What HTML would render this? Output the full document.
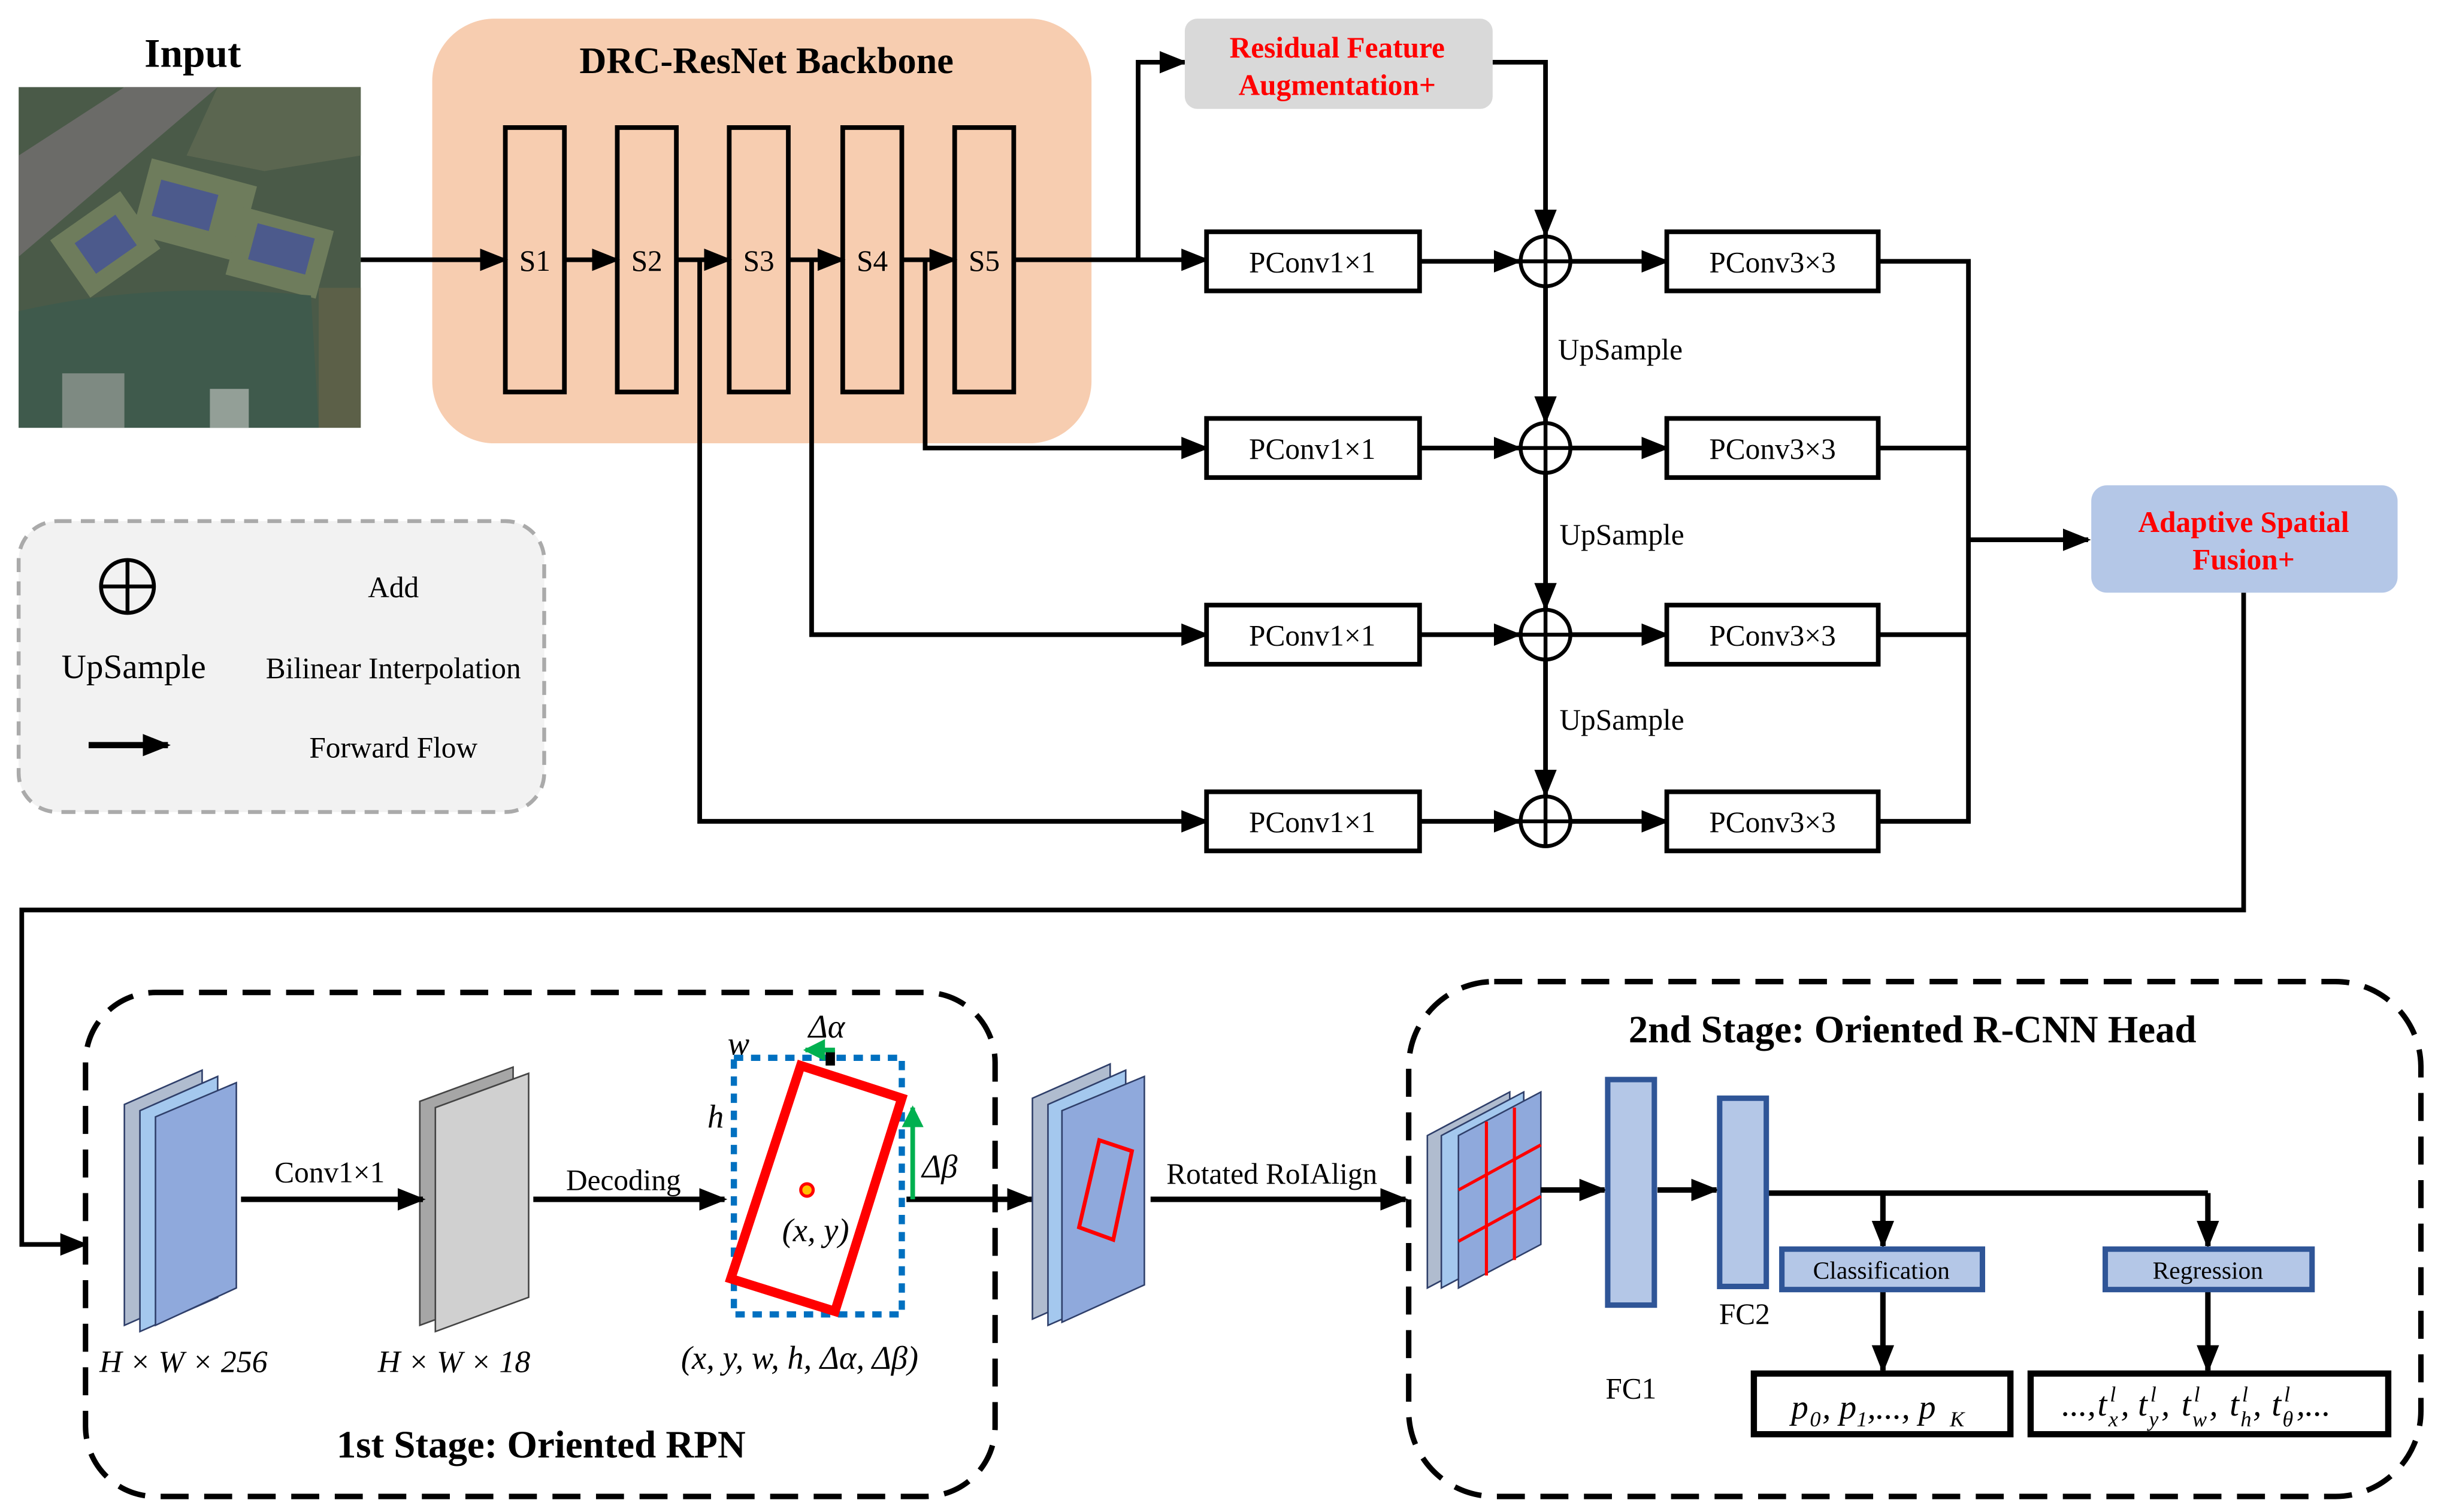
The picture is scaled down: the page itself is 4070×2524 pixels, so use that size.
<!DOCTYPE html>
<html><head><meta charset="utf-8"><style>html,body{margin:0;padding:0;background:#fff}svg{display:block}svg text{font-family:"Liberation Serif","DejaVu Serif",serif}</style></head><body>
<svg width="4070" height="2524" viewBox="0 0 1568 972" preserveAspectRatio="none" xmlns="http://www.w3.org/2000/svg">
<defs>
<marker id="b" viewBox="0 0 10 10" refX="9" refY="5" markerWidth="18" markerHeight="18" orient="auto" markerUnits="userSpaceOnUse"><path d="M0,1L10,5L0,9z"/></marker>
<marker id="g" viewBox="0 0 10 10" refX="9" refY="5" markerWidth="14" markerHeight="14" orient="auto" markerUnits="userSpaceOnUse"><path d="M0,0L10,5L0,10z" fill="#00b050"/></marker>
</defs>
<!-- Input -->
<text x="124" y="43" font-size="26" font-weight="bold" text-anchor="middle">Input</text>
<rect x="12" y="56" width="220" height="219" fill="#4a5a48"/>
<polygon points="12,100 80,56 140,56 12,165" fill="#6b6b68"/>
<polygon points="140,56 232,56 232,100 170,110 120,100" fill="#5b6650"/>
<rect x="90" y="110" width="70" height="50" fill="#6e7c5c" transform="rotate(15 125 135)"/>
<rect x="40" y="135" width="55" height="45" fill="#6e7c5c" transform="rotate(-35 67 157)"/>
<rect x="150" y="140" width="60" height="45" fill="#6e7c5c" transform="rotate(15 180 162)"/>
<rect x="100" y="120" width="38" height="24" fill="#4c5a8c" transform="rotate(15 119 132)"/>
<rect x="52" y="145" width="32" height="24" fill="#4c5a8c" transform="rotate(-35 68 157)"/>
<rect x="162" y="148" width="38" height="24" fill="#4c5a8c" transform="rotate(15 181 160)"/>
<path d="M12,200 Q100,180 200,190 L205,275 L12,275z" fill="#3f5a4c"/>
<rect x="40" y="240" width="40" height="35" fill="#9a9e9a" opacity="0.7"/>
<rect x="135" y="250" width="25" height="25" fill="#b8bcb8" opacity="0.7"/>
<rect x="205" y="185" width="27" height="90" fill="#5c6048"/>
<!-- Backbone -->
<rect x="278" y="12" width="424" height="273" rx="40" fill="#f7cdb0"/>
<text x="493" y="47" font-size="24" font-weight="bold" text-anchor="middle">DRC-ResNet Backbone</text>
<g fill="none" stroke="#000" stroke-width="3">
<rect x="325" y="82" width="38" height="170"/><rect x="397" y="82" width="38" height="170"/><rect x="469" y="82" width="38" height="170"/><rect x="542" y="82" width="38" height="170"/><rect x="614" y="82" width="38" height="170"/>
</g>
<g font-size="19" text-anchor="middle"><text x="344" y="174">S1</text><text x="416" y="174">S2</text><text x="488" y="174">S3</text><text x="561" y="174">S4</text><text x="633" y="174">S5</text></g>
<g fill="none" stroke="#000" stroke-width="3" marker-end="url(#b)">
<path d="M232,167H325"/><path d="M363,167H397"/><path d="M435,167H469"/><path d="M507,167H542"/><path d="M580,167H614"/>
<path d="M652,167H776"/><path d="M732,167V40H762"/>
<path d="M960,40H994V151"/>
<path d="M595,167V288H776"/><path d="M522,167V408H776"/><path d="M450,167V528H776"/>
<path d="M913,168H977"/><path d="M913,288H977"/><path d="M913,408H977"/><path d="M913,528H977"/>
<path d="M1010,168H1072"/><path d="M1010,288H1072"/><path d="M1010,408H1072"/><path d="M1010,528H1072"/>
<path d="M994,184V271"/><path d="M994,304V391"/><path d="M994,424V511"/>
<path d="M1266,347H1343"/>
<path d="M1443,381V585H14V800H55"/>
</g>
<g fill="none" stroke="#000" stroke-width="3">
<path d="M1208,168H1266V528H1208M1208,288H1266M1208,408H1266"/>
</g>
<!-- RFA -->
<rect x="762" y="12" width="198" height="58" rx="8" fill="#d9d9d9"/>
<text x="860" y="37" font-size="19" font-weight="bold" fill="#ff0000" text-anchor="middle">Residual Feature</text>
<text x="860" y="61" font-size="19" font-weight="bold" fill="#ff0000" text-anchor="middle">Augmentation+</text>
<!-- PConv boxes -->
<g fill="#fff" stroke="#000" stroke-width="3">
<rect x="776" y="149" width="137" height="38"/><rect x="776" y="269" width="137" height="38"/><rect x="776" y="389" width="137" height="38"/><rect x="776" y="509" width="137" height="38"/>
<rect x="1072" y="149" width="136" height="38"/><rect x="1072" y="269" width="136" height="38"/><rect x="1072" y="389" width="136" height="38"/><rect x="1072" y="509" width="136" height="38"/>
</g>
<g font-size="19" text-anchor="middle">
<text x="844" y="175">PConv1×1</text><text x="844" y="295">PConv1×1</text><text x="844" y="415">PConv1×1</text><text x="844" y="535">PConv1×1</text>
<text x="1140" y="175">PConv3×3</text><text x="1140" y="295">PConv3×3</text><text x="1140" y="415">PConv3×3</text><text x="1140" y="535">PConv3×3</text>
</g>
<g fill="#fff" stroke="#000" stroke-width="2.5">
<circle cx="994" cy="168" r="16"/><circle cx="994" cy="288" r="16"/><circle cx="994" cy="408" r="16"/><circle cx="994" cy="528" r="16"/>
</g>
<g stroke="#000" stroke-width="2.5">
<path d="M978,168H1010M994,152V184M978,288H1010M994,272V304M978,408H1010M994,392V424M978,528H1010M994,512V544"/>
</g>
<g font-size="19"><text x="1002" y="231">UpSample</text><text x="1003" y="350">UpSample</text><text x="1003" y="469">UpSample</text></g>
<!-- ASF -->
<rect x="1345" y="312" width="197" height="69" rx="10" fill="#b4c7e7"/>
<text x="1443" y="342" font-size="19" font-weight="bold" fill="#ff0000" text-anchor="middle">Adaptive  Spatial</text>
<text x="1443" y="366" font-size="19" font-weight="bold" fill="#ff0000" text-anchor="middle">Fusion+</text>
<!-- Legend -->
<rect x="12" y="335" width="338" height="187" rx="25" fill="#f2f2f2" stroke="#aaa" stroke-width="2.5" stroke-dasharray="9,6"/>
<circle cx="82" cy="377" r="17" fill="none" stroke="#000" stroke-width="2.5"/>
<path d="M65,377H99M82,360V394" stroke="#000" stroke-width="2.5"/>
<text x="253" y="384" font-size="19" text-anchor="middle">Add</text>
<text x="86" y="436" font-size="22" text-anchor="middle">UpSample</text>
<text x="253" y="436" font-size="19" text-anchor="middle">Bilinear Interpolation</text>
<path d="M57,479H108" stroke="#000" stroke-width="4" marker-end="url(#b)"/>
<text x="253" y="487" font-size="19" text-anchor="middle">Forward Flow</text>
<!-- 1st stage -->
<rect x="55" y="638" width="585" height="324" rx="45" fill="none" stroke="#000" stroke-width="3.5" stroke-dasharray="18,10"/>
<text x="348" y="937" font-size="25" font-weight="bold" text-anchor="middle">1st Stage: Oriented RPN</text>
<g stroke="#2f3f6a" stroke-width="1">
<polygon points="80,710 130,688 130,830 80,852" fill="#b0bccf"/>
<polygon points="90,714 140,692 140,834 90,856" fill="#a4c8ee"/>
<polygon points="100,718 152,696 152,828 100,852" fill="#8fa9dc"/>
</g>
<g stroke="#444" stroke-width="1">
<polygon points="270,708 330,686 330,830 270,852" fill="#a6a6a6"/>
<polygon points="280,712 340,690 340,834 280,856" fill="#d0d0d0"/>
</g>
<g font-size="20" font-style="italic"><text x="64" y="882">H × W × 256</text><text x="243" y="882">H × W × 18</text></g>
<text x="212" y="760" font-size="19" text-anchor="middle">Conv1×1</text>
<text x="401" y="765" font-size="19" text-anchor="middle">Decoding</text>
<g stroke="#000" stroke-width="3.5" marker-end="url(#b)"><path d="M155,771H272"/><path d="M343,771H466"/><path d="M583,771H664"/><path d="M740,771H904"/></g>
<rect x="472" y="680" width="108" height="165" fill="none" stroke="#0070c0" stroke-width="4" stroke-dasharray="6,5"/>
<polygon points="515,685 580,706 537,843 470,822" fill="none" stroke="#ff0000" stroke-width="6"/>
<circle cx="519" cy="765" r="4" fill="#ffc000" stroke="#ff0000" stroke-width="2"/>
<rect x="531" y="675" width="6" height="10" fill="#000"/>
<path d="M537,675H518" stroke="#00b050" stroke-width="3" marker-end="url(#g)"/>
<path d="M587,771V712" stroke="#00b050" stroke-width="3" marker-end="url(#g)"/>
<g font-size="21" font-style="italic">
<text x="468" y="678">w</text><text x="455" y="725">h</text>
<text x="520" y="667">Δα</text><text x="593" y="757">Δβ</text>
<text x="503" y="798">(x, y)</text>
<text x="438" y="880">(x, y, w, h, Δα, Δβ)</text>
</g>
<g stroke="#2f3f6a" stroke-width="1">
<polygon points="664,706 714,684 714,826 664,848" fill="#b0bccf"/>
<polygon points="674,710 724,688 724,830 674,852" fill="#a4c8ee"/>
<polygon points="683,714 736,692 736,826 683,850" fill="#8fa9dc"/>
</g>
<polygon points="707,733 728,740 716,797 694,789" fill="none" stroke="#ff0000" stroke-width="2.5"/>
<text x="818" y="761" font-size="19" text-anchor="middle">Rotated RoIAlign</text>
<!-- 2nd stage -->
<rect x="906" y="631" width="651" height="331" rx="55" fill="none" stroke="#000" stroke-width="3.5" stroke-dasharray="18,10"/>
<text x="1230" y="670" font-size="25" font-weight="bold" text-anchor="middle">2nd Stage: Oriented R-CNN Head</text>
<g stroke="#2f3f6a" stroke-width="1">
<polygon points="918,730 971,702 971,800 918,828" fill="#b0bccf"/>
<polygon points="927,730 980,702 980,800 927,828" fill="#a4c8ee"/>
<polygon points="938,730 991,702 991,800 938,828" fill="#8fa9dc"/>
</g>
<g stroke="#ff0000" stroke-width="2"><path d="M956,721V820M974,712V810M938,765L991,736M938,798L991,769"/></g>
<g stroke="#000" stroke-width="3.5" marker-end="url(#b)"><path d="M991,765H1032"/><path d="M1066,765H1104"/>
<path d="M1211,767V801"/><path d="M1420,767V801"/><path d="M1211,830V881"/><path d="M1420,830V881"/></g>
<path d="M1137,767H1420" stroke="#000" stroke-width="3.5" fill="none"/>
<g fill="#b4c7e7" stroke="#2f5597" stroke-width="3.5">
<rect x="1034" y="694" width="30" height="145"/><rect x="1106" y="706" width="30" height="121"/>
<rect x="1146" y="803" width="129" height="26"/><rect x="1354" y="803" width="133" height="26"/>
</g>
<g font-size="16" text-anchor="middle"><text x="1210" y="822">Classification</text><text x="1420" y="822">Regression</text></g>
<g font-size="19" text-anchor="middle"><text x="1122" y="851">FC2</text><text x="1049" y="899">FC1</text></g>
<g fill="#fff" stroke="#000" stroke-width="4"><rect x="1128" y="883" width="165" height="39"/><rect x="1306" y="883" width="230" height="39"/></g>
<g font-size="22" font-style="italic">
<text x="1152" y="912">p</text><text x="1164" y="917" font-size="14">0</text><text x="1172" y="912">, p</text><text x="1194" y="917" font-size="14">1</text><text x="1201" y="912">,..., p</text><text x="1254" y="917" font-size="14">K</text>
<text x="1326" y="910">...,</text>
<text x="1349" y="910">t</text><text x="1357" y="901" font-size="14">l</text><text x="1356" y="917" font-size="14">x</text><text x="1364" y="910">,</text>
<text x="1375" y="910">t</text><text x="1383" y="901" font-size="14">l</text><text x="1382" y="917" font-size="14">y</text><text x="1390" y="910">,</text>
<text x="1403" y="910">t</text><text x="1411" y="901" font-size="14">l</text><text x="1410" y="917" font-size="14">w</text><text x="1421" y="910">,</text>
<text x="1434" y="910">t</text><text x="1442" y="901" font-size="14">l</text><text x="1441" y="917" font-size="14">h</text><text x="1449" y="910">,</text>
<text x="1461" y="910">t</text><text x="1469" y="901" font-size="14">l</text><text x="1468" y="917" font-size="14">θ</text><text x="1477" y="910">,...</text>
</g>
</svg>
</body></html>
